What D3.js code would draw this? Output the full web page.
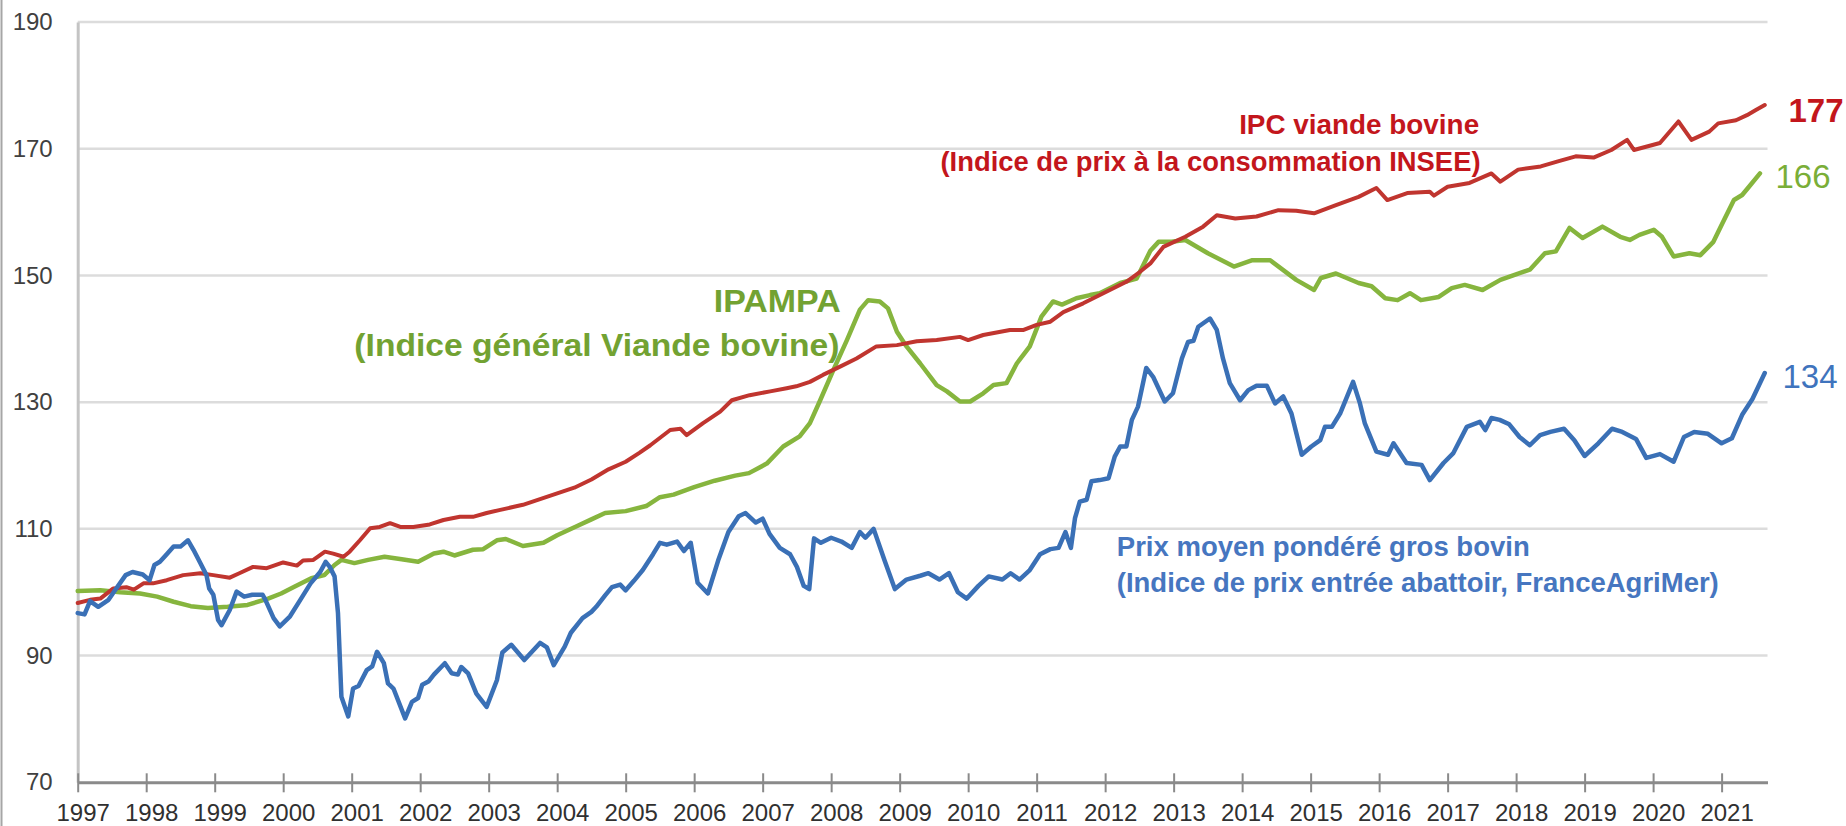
<!DOCTYPE html>
<html>
<head>
<meta charset="utf-8">
<script src="https://cdn.jsdelivr.net/npm/d3@7"></script>
<style>
  html, body { margin: 0; padding: 0; background: #ffffff; }
  svg { display: block; font-family: "Liberation Sans", Arial, sans-serif; }
</style>
</head>
<body>
<div id="chart"></div>
<script>
// ---- Data (decimal year, index value) ----
const years = d3.range(1997, 2022);
const yTicks = [70, 90, 110, 130, 150, 170, 190];

const ipcPoints = [
  [1997.0, 98.3], [1997.18, 98.8], [1997.33, 99.0], [1997.52, 100.6], [1997.71, 100.8], [1997.82, 100.4],
  [1997.96, 101.4], [1998.1, 101.4], [1998.3, 101.9], [1998.54, 102.7], [1998.79, 103.0], [1998.98, 102.7],
  [1999.22, 102.3], [1999.36, 103.0], [1999.56, 104.0], [1999.76, 103.8], [2000.0, 104.7], [2000.2, 104.2],
  [2000.29, 105.0], [2000.44, 105.1], [2000.61, 106.4], [2000.73, 106.1], [2000.88, 105.6], [2000.97, 106.4],
  [2001.12, 108.2], [2001.27, 110.1], [2001.41, 110.3], [2001.56, 110.9], [2001.71, 110.3], [2001.9, 110.3],
  [2002.14, 110.7], [2002.34, 111.4], [2002.58, 111.9], [2002.77, 111.9], [2002.97, 112.5], [2003.17, 113.0],
  [2003.5, 113.8], [2003.75, 114.7], [2004.0, 115.6], [2004.25, 116.5], [2004.5, 117.8], [2004.75, 119.4],
  [2005.0, 120.6], [2005.2, 122.0], [2005.36, 123.2], [2005.65, 125.6], [2005.8, 125.8], [2005.89, 124.8],
  [2006.13, 126.7], [2006.38, 128.5], [2006.55, 130.3], [2006.81, 131.1], [2007.11, 131.7], [2007.35, 132.2],
  [2007.49, 132.5], [2007.69, 133.2], [2007.88, 134.3], [2008.13, 135.6], [2008.37, 136.9], [2008.66, 138.8],
  [2008.96, 139.0], [2009.25, 139.6], [2009.54, 139.8], [2009.88, 140.3], [2010.0, 139.8], [2010.22, 140.6],
  [2010.61, 141.4], [2010.81, 141.4], [2011.0, 142.2], [2011.2, 142.7], [2011.39, 144.2], [2011.68, 145.6],
  [2011.9, 146.8], [2012.31, 149.0], [2012.5, 150.5], [2012.66, 151.9], [2012.85, 154.5], [2013.17, 156.1],
  [2013.43, 157.7], [2013.63, 159.5], [2013.9, 159.0], [2014.21, 159.3], [2014.53, 160.3], [2014.79, 160.2],
  [2015.05, 159.8], [2015.37, 161.1], [2015.7, 162.4], [2015.96, 163.8], [2016.12, 161.9], [2016.41, 163.0],
  [2016.74, 163.2], [2016.8, 162.6], [2017.0, 164.0], [2017.32, 164.6], [2017.64, 166.1], [2017.77, 164.8],
  [2018.03, 166.7], [2018.36, 167.2], [2018.61, 168.0], [2018.87, 168.8], [2019.13, 168.6], [2019.39, 169.8],
  [2019.62, 171.4], [2019.72, 169.8], [2020.1, 170.9], [2020.37, 174.3], [2020.56, 171.4], [2020.82, 172.7],
  [2020.95, 174.0], [2021.21, 174.5], [2021.37, 175.3], [2021.5, 176.1], [2021.63, 176.9]
];

const ipampaPoints = [
  [1997.0, 100.2], [1997.33, 100.3], [1997.62, 100.0], [1997.91, 99.8], [1998.16, 99.3], [1998.4, 98.5],
  [1998.65, 97.8], [1998.9, 97.5], [1999.19, 97.7], [1999.48, 98.0], [1999.78, 99.0], [1999.97, 99.8],
  [2000.17, 100.9], [2000.41, 102.2], [2000.6, 102.7], [2000.75, 104.3], [2000.85, 105.1], [2001.04, 104.6],
  [2001.24, 105.1], [2001.48, 105.6], [2001.73, 105.2], [2001.97, 104.8], [2002.2, 106.1], [2002.34, 106.4],
  [2002.5, 105.8], [2002.77, 106.7], [2002.92, 106.8], [2003.12, 108.2], [2003.25, 108.4], [2003.5, 107.3],
  [2003.8, 107.8], [2004.0, 109.0], [2004.3, 110.5], [2004.5, 111.5], [2004.7, 112.5], [2005.0, 112.8],
  [2005.3, 113.6], [2005.5, 115.0], [2005.7, 115.4], [2006.0, 116.6], [2006.3, 117.6], [2006.6, 118.4],
  [2006.8, 118.8], [2007.06, 120.3], [2007.3, 123.0], [2007.54, 124.6], [2007.69, 126.7], [2007.84, 130.3],
  [2008.03, 135.0], [2008.23, 139.8], [2008.42, 144.6], [2008.54, 146.1], [2008.71, 145.9], [2008.83, 144.8],
  [2008.96, 141.1], [2009.1, 138.8], [2009.3, 136.1], [2009.54, 132.7], [2009.69, 131.7], [2009.88, 130.1],
  [2010.03, 130.1], [2010.22, 131.4], [2010.37, 132.7], [2010.56, 133.0], [2010.71, 136.1], [2010.9, 138.8],
  [2011.07, 143.5], [2011.24, 145.9], [2011.37, 145.4], [2011.58, 146.4], [2011.78, 146.9], [2011.92, 147.2],
  [2012.22, 148.8], [2012.46, 149.5], [2012.66, 153.9], [2012.78, 155.3], [2012.97, 155.3], [2013.17, 155.6],
  [2013.5, 153.5], [2013.88, 151.4], [2014.15, 152.4], [2014.41, 152.4], [2014.79, 149.3], [2015.05, 147.7],
  [2015.15, 149.6], [2015.37, 150.3], [2015.7, 148.8], [2015.89, 148.3], [2016.09, 146.4], [2016.27, 146.1],
  [2016.45, 147.2], [2016.61, 146.1], [2016.87, 146.6], [2017.06, 148.0], [2017.25, 148.5], [2017.51, 147.7],
  [2017.77, 149.3], [2018.03, 150.3], [2018.2, 150.9], [2018.42, 153.5], [2018.58, 153.8], [2018.78, 157.5],
  [2018.97, 155.9], [2019.26, 157.7], [2019.52, 156.1], [2019.66, 155.6], [2019.8, 156.4], [2020.01, 157.2],
  [2020.13, 156.1], [2020.3, 153.0], [2020.53, 153.5], [2020.69, 153.2], [2020.88, 155.3], [2021.01, 158.2],
  [2021.18, 161.9], [2021.3, 162.7], [2021.4, 164.0], [2021.56, 166.1]
];

const prixPoints = [
  [1997.0, 96.7], [1997.1, 96.5], [1997.18, 98.6], [1997.3, 97.7], [1997.45, 98.8], [1997.55, 100.4],
  [1997.7, 102.7], [1997.8, 103.2], [1997.95, 102.8], [1998.05, 101.9], [1998.12, 104.3], [1998.2, 104.8],
  [1998.3, 106.0], [1998.4, 107.2], [1998.5, 107.2], [1998.61, 108.2], [1998.69, 106.7], [1998.79, 104.6],
  [1998.88, 102.7], [1998.92, 100.6], [1998.98, 99.6], [1999.05, 95.6], [1999.1, 94.8], [1999.22, 97.2],
  [1999.32, 100.1], [1999.43, 99.3], [1999.55, 99.6], [1999.7, 99.6], [1999.74, 98.8], [1999.86, 95.9],
  [1999.95, 94.6], [2000.1, 96.2], [2000.25, 98.8], [2000.4, 101.4], [2000.54, 103.2], [2000.62, 104.8],
  [2000.68, 104.0], [2000.75, 102.5], [2000.8, 96.7], [2000.85, 83.5], [2000.95, 80.4], [2001.02, 84.8],
  [2001.1, 85.2], [2001.22, 87.7], [2001.3, 88.3], [2001.37, 90.6], [2001.47, 88.8], [2001.53, 85.6],
  [2001.61, 84.8], [2001.78, 80.1], [2001.88, 82.7], [2001.97, 83.3], [2002.03, 85.4], [2002.12, 85.9],
  [2002.2, 87.0], [2002.36, 88.8], [2002.46, 87.2], [2002.55, 87.0], [2002.6, 88.2], [2002.7, 87.2],
  [2002.82, 84.0], [2002.97, 81.9], [2003.12, 86.1], [2003.2, 90.5], [2003.33, 91.7], [2003.52, 89.3],
  [2003.75, 92.0], [2003.85, 91.3], [2003.95, 88.5], [2004.11, 91.4], [2004.2, 93.6], [2004.37, 95.9],
  [2004.5, 96.9], [2004.57, 97.7], [2004.7, 99.5], [2004.8, 100.8], [2004.92, 101.2], [2005.0, 100.3],
  [2005.12, 101.8], [2005.25, 103.5], [2005.4, 106.0], [2005.5, 107.8], [2005.6, 107.5], [2005.75, 108.0],
  [2005.85, 106.5], [2005.95, 107.8], [2006.05, 101.5], [2006.2, 99.8], [2006.35, 105.0], [2006.5, 109.5],
  [2006.65, 112.0], [2006.75, 112.5], [2006.9, 111.0], [2007.0, 111.6], [2007.1, 109.2], [2007.25, 107.0],
  [2007.4, 106.0], [2007.5, 104.0], [2007.6, 101.0], [2007.68, 100.5], [2007.75, 108.5], [2007.85, 107.8],
  [2008.0, 108.6], [2008.15, 108.0], [2008.3, 107.0], [2008.42, 109.5], [2008.5, 108.6], [2008.62, 110.0],
  [2008.78, 105.0], [2008.93, 100.5], [2009.1, 102.0], [2009.3, 102.6], [2009.42, 103.0], [2009.58, 102.0],
  [2009.72, 103.0], [2009.85, 100.0], [2009.98, 99.0], [2010.15, 101.0], [2010.3, 102.5], [2010.5, 102.0],
  [2010.62, 103.0], [2010.75, 102.0], [2010.9, 103.5], [2011.05, 106.0], [2011.2, 106.8], [2011.32, 107.0],
  [2011.42, 109.5], [2011.5, 107.0], [2011.56, 111.7], [2011.63, 114.3], [2011.73, 114.6], [2011.8, 117.5],
  [2011.92, 117.7], [2012.05, 118.0], [2012.14, 121.4], [2012.22, 123.0], [2012.31, 123.0], [2012.39, 127.2],
  [2012.48, 129.3], [2012.6, 135.4], [2012.7, 134.0], [2012.87, 130.1], [2012.99, 131.4], [2013.12, 136.9],
  [2013.21, 139.5], [2013.29, 139.7], [2013.36, 141.9], [2013.53, 143.2], [2013.63, 141.4], [2013.72, 136.9],
  [2013.82, 133.0], [2013.97, 130.3], [2014.09, 131.9], [2014.21, 132.6], [2014.36, 132.6], [2014.48, 129.8],
  [2014.6, 130.9], [2014.72, 128.2], [2014.87, 121.7], [2015.01, 123.0], [2015.14, 124.0], [2015.21, 126.1],
  [2015.31, 126.1], [2015.43, 128.2], [2015.62, 133.2], [2015.72, 129.8], [2015.79, 126.7], [2015.96, 122.2],
  [2016.13, 121.7], [2016.21, 123.5], [2016.4, 120.4], [2016.62, 120.1], [2016.74, 117.7], [2016.94, 120.4],
  [2017.08, 121.9], [2017.28, 126.1], [2017.47, 126.9], [2017.55, 125.6], [2017.64, 127.5], [2017.76, 127.2],
  [2017.9, 126.5], [2018.05, 124.5], [2018.2, 123.2], [2018.35, 124.8], [2018.5, 125.3], [2018.7, 125.8],
  [2018.85, 124.0], [2019.0, 121.5], [2019.2, 123.5], [2019.4, 125.8], [2019.55, 125.3], [2019.75, 124.2],
  [2019.9, 121.2], [2020.1, 121.8], [2020.3, 120.6], [2020.45, 124.5], [2020.6, 125.3], [2020.8, 125.0],
  [2021.0, 123.5], [2021.15, 124.3], [2021.3, 128.0], [2021.45, 130.5], [2021.63, 134.6]
];

const seriesColors = { ipc: "#c0352f", ipampa: "#86b53e", prix: "#3a70b6" };
const endLabels = ["177", "166", "134"];

// ---- Chart area ----
const width = 1846, height = 826;
const x = d3.scaleLinear().domain([1997, 2021.67]).range([77.7, 1767.5]);
const y = d3.scaleLinear().domain([70, 190]).range([782.3, 22]);

const svg = d3.select("#chart")
  .append("svg")
  .attr("width", width)
  .attr("height", height);

// left frame edge
svg.append("line")
  .attr("x1", 1.5).attr("x2", 1.5)
  .attr("y1", 0).attr("y2", height)
  .attr("stroke", "#a6a6a6")
  .attr("stroke-width", 2);

// ---- Gridlines ----
svg.append("g")
  .selectAll("line")
  .data(yTicks.filter(d => d > 70))
  .join("line")
  .attr("x1", x(1997)).attr("x2", x(2021.67))
  .attr("y1", d => y(d)).attr("y2", d => y(d))
  .attr("stroke", "#dcdcdc")
  .attr("stroke-width", 2.5);

// ---- Left axis ----
const yAxis = svg.append("g")
  .attr("transform", `translate(${x(1997)},0)`)
  .call(d3.axisLeft(y).tickValues(yTicks).tickSize(0).tickPadding(25));
yAxis.select(".domain")
  .attr("stroke", "#c4c4c4")
  .attr("stroke-width", 3);
yAxis.selectAll("text")
  .attr("font-size", 24)
  .attr("font-family", "'Liberation Sans', Arial, sans-serif")
  .attr("fill", "#404040");

// ---- Bottom axis ----
const xAxis = svg.append("g")
  .attr("transform", `translate(0,${y(70)})`)
  .call(d3.axisBottom(x).tickValues(years).tickFormat(d3.format("d")).tickSizeOuter(0));
xAxis.select(".domain")
  .attr("stroke", "#8a8a8a")
  .attr("stroke-width", 3);
xAxis.selectAll(".tick line")
  .attr("y1", -9).attr("y2", 10)
  .attr("stroke", "#8a8a8a")
  .attr("stroke-width", 2);
xAxis.selectAll(".tick text")
  .attr("y", 22)
  .attr("dx", 5)
  .attr("font-size", 24)
  .attr("font-family", "'Liberation Sans', Arial, sans-serif")
  .attr("fill", "#303030");

// ---- Lines ----
const line = d3.line().x(d => x(d[0])).y(d => y(d[1]));

const series = [
  { key: "ipampa", pts: ipampaPoints, w: 4.5 },
  { key: "ipc", pts: ipcPoints, w: 4 },
  { key: "prix", pts: prixPoints, w: 4.5 }
];

svg.append("g")
  .selectAll("path")
  .data(series)
  .join("path")
  .attr("d", d => line(d.pts))
  .attr("fill", "none")
  .attr("stroke", d => seriesColors[d.key])
  .attr("stroke-width", d => d.w)
  .attr("stroke-linejoin", "round")
  .attr("stroke-linecap", "round");

// ---- Series annotations ----
const ann = svg.append("g").attr("font-weight", "bold");

function label(txt, px, py, size, color, anchor, len) {
  ann.append("text")
    .attr("x", px).attr("y", py)
    .attr("text-anchor", anchor)
    .attr("dominant-baseline", "central")
    .attr("font-size", size)
    .attr("fill", color)
    .attr("textLength", len)
    .attr("lengthAdjust", "spacingAndGlyphs")
    .text(txt);
}

label("IPC viande bovine", x(2017.46), y(173.8), 28, "#c3161c", "end", 240);
label("(Indice de prix à la consommation INSEE)", x(2017.48), y(168.0), 28, "#c3161c", "end", 540);
label("IPAMPA", x(2008.14), y(145.9), 32, "#72a232", "end", 127);
label("(Indice général Viande bovine)", x(2008.12), y(139.0), 32, "#72a232", "end", 485);
label("Prix moyen pondéré gros bovin", x(2012.17), y(107.2), 27, "#4676c0", "start", 413);
label("(Indice de prix entrée abattoir, FranceAgriMer)", x(2012.17), y(101.4), 27, "#4676c0", "start", 602);

// ---- End values ----
const ends = [
  { t: endLabels[0], v: 176.1, c: "#c3161c", bold: true, dx: 21 },
  { t: endLabels[1], v: 165.6, c: "#7aae38", bold: false, dx: 8 },
  { t: endLabels[2], v: 134.0, c: "#3f74bd", bold: false, dx: 15 }
];
svg.append("g")
  .selectAll("text")
  .data(ends)
  .join("text")
  .attr("x", d => x(2021.67) + d.dx)
  .attr("y", d => y(d.v))
  .attr("dominant-baseline", "central")
  .attr("font-size", 33)
  .attr("font-weight", d => d.bold ? "bold" : "normal")
  .attr("fill", d => d.c)
  .text(d => d.t);
</script>
</body>
</html>
